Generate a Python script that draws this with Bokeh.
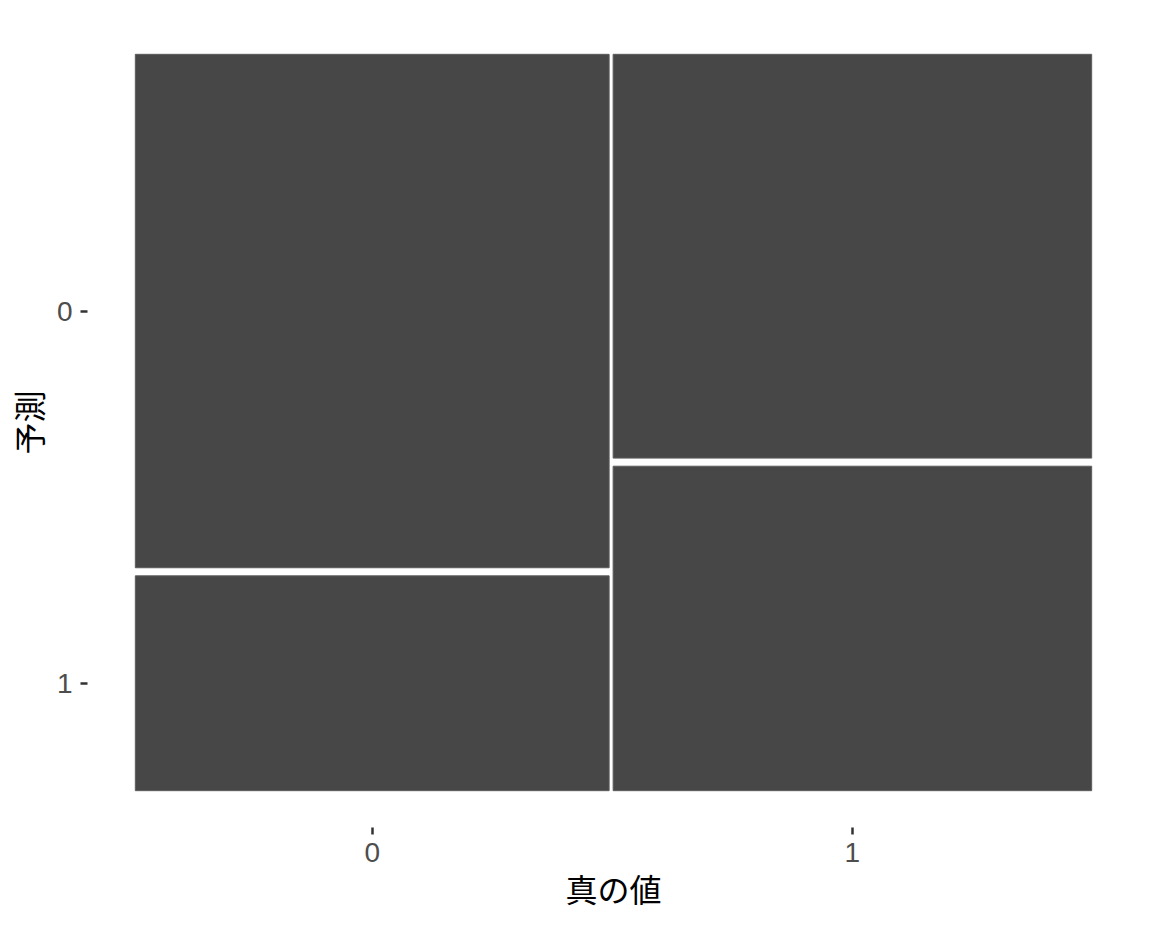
from bokeh.plotting import figure
from bokeh.models import Range1d, FixedTicker, ColumnDataSource
from bokeh.embed import file_html
from bokeh.resources import INLINE

# --- data (confusion counts, read from the mosaic proportions) ---
truth_levels = ["0", "1"]
pred_levels = ["0", "1"]
count_pred0 = [141, 112]   # predicted 0, for truth 0 / truth 1
count_pred1 = [59, 90]     # predicted 1, for truth 0 / truth 1
x_title = "真の値"
y_title = "予測"

# --- style constants ---
GAP_X = 0.0042
GAP_Y = 0.011
EXP = 0.05
FILL = "#474747"
W, H = 1144, 920

totals = [a + b for a, b in zip(count_pred0, count_pred1)]
grand = sum(totals)
usable_x = 1 - GAP_X * (len(totals) - 1)

lefts, rights, tops, bottoms = [], [], [], []
x_centers = []
y_centers_first = []
x0 = 0.0
for i, tot in enumerate(totals):
    w = usable_x * tot / grand
    usable_y = 1 - GAP_Y
    y0 = 0.0
    for j, c in enumerate([count_pred0[i], count_pred1[i]]):
        h = usable_y * c / tot
        lefts.append(x0); rights.append(x0 + w)
        tops.append(y0); bottoms.append(y0 + h)
        if i == 0:
            y_centers_first.append(y0 + h / 2)
        y0 += h + GAP_Y
    x_centers.append(x0 + w / 2)
    x0 += w + GAP_X

src = ColumnDataSource(dict(left=lefts, right=rights, top=tops, bottom=bottoms))

p = figure(width=W, height=H, output_backend="svg", toolbar_location=None,
           x_range=Range1d(-EXP, 1 + EXP), y_range=Range1d(1 + EXP, -EXP),
           min_border_left=87, min_border_right=5, min_border_top=17,
           min_border_bottom=93)
p.quad(left="left", right="right", top="top", bottom="bottom", source=src,
       fill_color=FILL, line_color="#5c5c5c", line_width=1)

p.outline_line_color = None
p.background_fill_color = "white"
p.border_fill_color = "white"
p.grid.visible = False

p.xaxis.ticker = FixedTicker(ticks=x_centers)
p.xaxis.major_label_overrides = {x_centers[k]: truth_levels[k] for k in range(len(truth_levels))}
p.yaxis.ticker = FixedTicker(ticks=y_centers_first)
p.yaxis.major_label_overrides = {y_centers_first[k]: pred_levels[k] for k in range(len(pred_levels))}

for ax in (p.xaxis[0], p.yaxis[0]):
    ax.axis_line_color = None
    ax.minor_tick_line_color = None
    ax.major_tick_in = 0
    ax.major_tick_out = 7
    ax.major_tick_line_width = 2.5
    ax.major_tick_line_color = "#333333"
    ax.major_label_text_font = "Liberation Sans"
    ax.major_label_text_font_size = "28px"
    ax.major_label_text_color = "#4d4d4d"
    ax.axis_label_text_font = "Noto Sans CJK JP"
    ax.axis_label_text_font_size = "32px"
    ax.axis_label_text_font_style = "normal"
    ax.axis_label_text_color = "#000000"

p.xaxis.axis_label = x_title
p.yaxis.axis_label = y_title
p.xaxis.major_label_standoff = 8
p.yaxis.major_label_standoff = 8
p.xaxis.axis_label_standoff = 0
p.yaxis.axis_label_standoff = 3

open("out.html", "w").write(file_html(p, INLINE))
